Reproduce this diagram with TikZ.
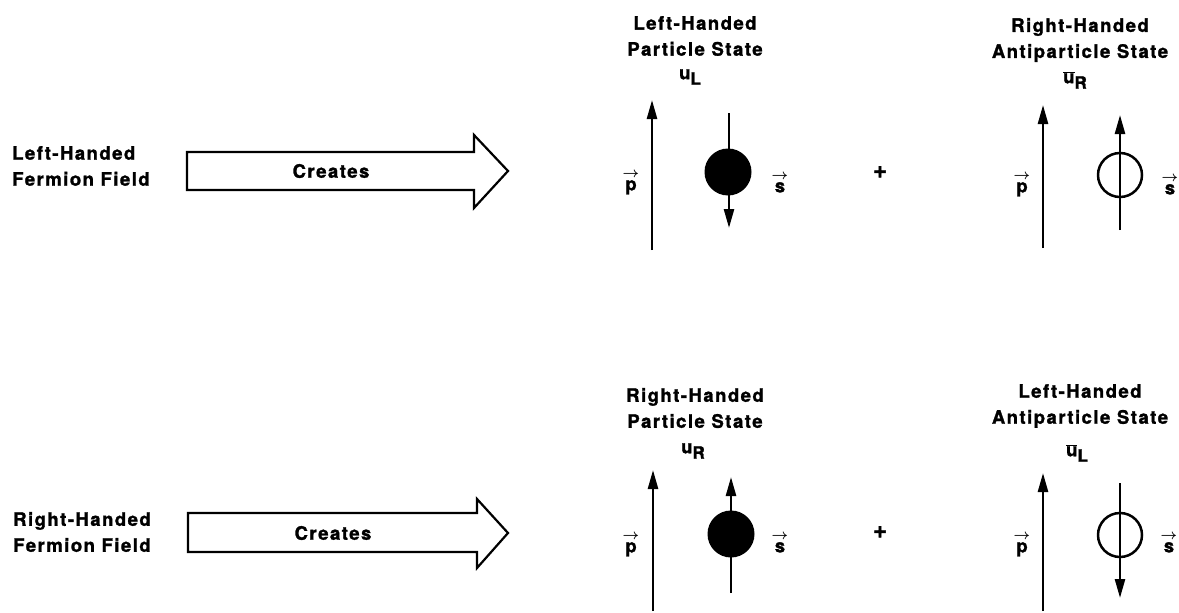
\documentclass[tikz,border=0pt]{standalone}
\usepackage{fontspec}
\setmainfont{TeX Gyre Heros}[LetterSpace=8, BoldFeatures={FakeBold=1.5}]
\usetikzlibrary{arrows.meta}

% vector and antiparticle symbols in the text face
\newcommand{\vecsym}[1]{\shortstack{\fontsize{15}{7}\selectfont\boldmath$\rightarrow$\\#1}}
\newcommand{\barsym}[1]{$\overline{\hbox{#1}}$}
\newcommand{\subsym}[2]{#1\raisebox{-0.55ex}{\fontsize{17}{17}\selectfont #2}}

\tikzset{
  txt/.style={font=\bfseries\fontsize{18.5}{26}\selectfont, inner sep=0pt},
  title/.style={txt, align=center},
  fieldlabel/.style={txt, align=left, anchor=west},
  plussign/.style={font=\bfseries\fontsize{24}{24}\selectfont, inner sep=0pt},
  blockarrow/.style={draw=black, line width=2.2pt, line join=miter, fill=white},
  vecarrow/.style={line width=2.5pt, -{Triangle[length=19pt,width=10pt]}},
  fullball/.style={circle, fill=black, minimum size=47pt, inner sep=0pt},
  openball/.style={circle, draw=black, line width=2.5pt, minimum size=44pt, inner sep=0pt},
}

\begin{document}
\begin{tikzpicture}[x=1pt, y=-1pt]
\useasboundingbox (0,0) rectangle (1179,613);

% ---------------- upper row: left-handed field ----------------
\node[fieldlabel] (lfield) at (12,166) {Left-Handed\\Fermion Field};
\begin{scope}[shift={(0,171)}]
  \draw[blockarrow] (187,-19) -- (474,-19) -- (474,-36) -- (508,0)
        -- (474,37) -- (474,19) -- (187,19) -- cycle;
  \node[txt] (lcreate) at (331,0) {Creates};
\end{scope}

% left-handed particle state
\node[title] (t1) at (695,36) {Left-Handed\\Particle State};
\node[txt] (u1) at (690,77) {\subsym{u}{L}};
\coordinate (p1a) at (652,250); \coordinate (p1b) at (652,100);
\draw[vecarrow] (p1a) -- (p1b);
\node[txt] (p1) at (631,183) {\vecsym{p}};
\coordinate (s1a) at (729,113); \coordinate (s1b) at (729,228);
\draw[vecarrow] (s1a) -- (s1b);
\node[fullball] (b1) at (728,172) {};
\node[txt] (s1) at (780,183) {\vecsym{s}};

\node[plussign] (plus1) at (880,172) {+};

% right-handed antiparticle state
\node[title] (t2) at (1080,40) {Right-Handed\\Antiparticle State};
\node[txt] (u2) at (1075,80) {\subsym{\barsym{u}}{R}};
\coordinate (p2a) at (1043,248); \coordinate (p2b) at (1043,105);
\draw[vecarrow] (p2a) -- (p2b);
\node[txt] (p2) at (1022,185) {\vecsym{p}};
\coordinate (s2a) at (1120,230); \coordinate (s2b) at (1120,115);
\draw[vecarrow] (s2a) -- (s2b);
\node[openball] (b2) at (1120,175) {};
\node[txt] (s2) at (1170,185) {\vecsym{s}};

% ---------------- lower row: right-handed field ----------------
\node[fieldlabel] (rfield) at (13,532) {Right-Handed\\Fermion Field};
\begin{scope}[shift={(0,533)}]
  \draw[blockarrow] (188,-20) -- (477,-20) -- (477,-34) -- (508,0)
        -- (477,35) -- (477,19) -- (188,19) -- cycle;
  \node[txt] (rcreate) at (333,0) {Creates};
\end{scope}

% right-handed particle state
\node[title] (t3) at (695,408) {Right-Handed\\Particle State};
\node[txt] (u3) at (693,451) {\subsym{u}{R}};
\coordinate (p3a) at (653,611); \coordinate (p3b) at (653,470);
\draw[vecarrow] (p3a) -- (p3b);
\node[txt] (p3) at (631,545) {\vecsym{p}};
\coordinate (s3a) at (731,593); \coordinate (s3b) at (731,477);
\draw[vecarrow] (s3a) -- (s3b);
\node[fullball] (b3) at (731,534) {};
\node[txt] (s3) at (780,543) {\vecsym{s}};

\node[plussign] (plus2) at (880,532) {+};

% left-handed antiparticle state
\node[title] (t4) at (1080,406) {Left-Handed\\Antiparticle State};
\node[txt] (u4) at (1077,453) {\subsym{\barsym{u}}{L}};
\coordinate (p4a) at (1043,611); \coordinate (p4b) at (1043,473);
\draw[vecarrow] (p4a) -- (p4b);
\node[txt] (p4) at (1022,545) {\vecsym{p}};
\coordinate (s4a) at (1120,483); \coordinate (s4b) at (1120,598);
\draw[vecarrow] (s4a) -- (s4b);
\node[openball] (b4) at (1120,535) {};
\node[txt] (s4) at (1169,543) {\vecsym{s}};
\end{tikzpicture}
\end{document}
